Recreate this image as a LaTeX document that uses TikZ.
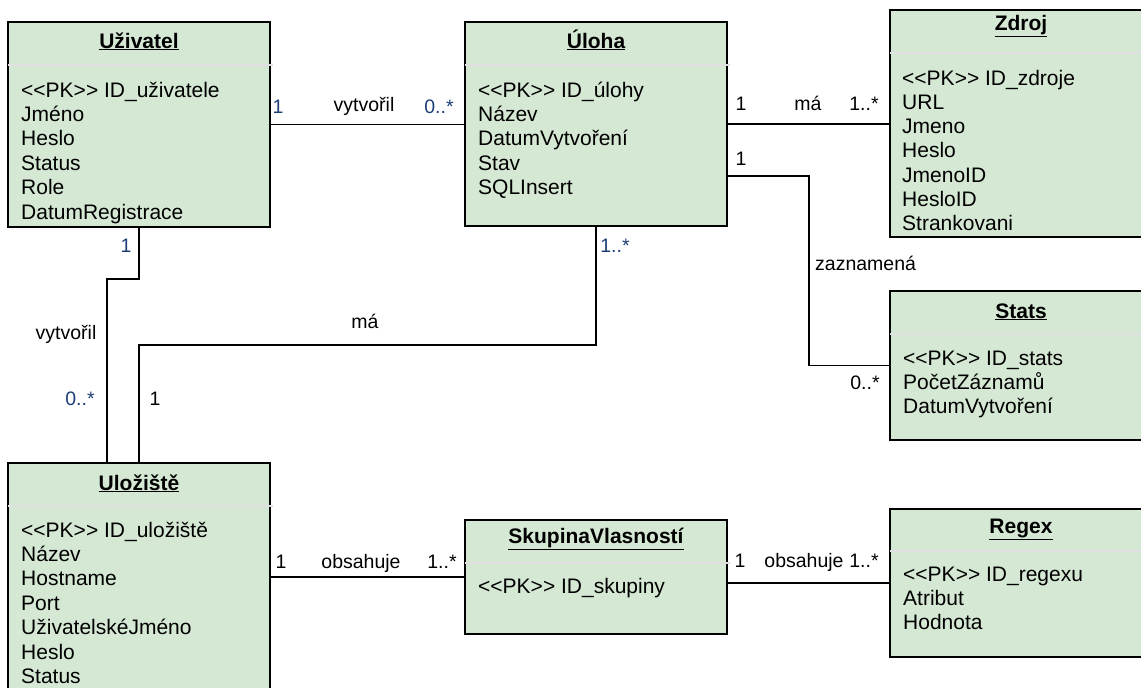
\documentclass[tikz,border=0pt]{standalone}
\usepackage{fontspec}
\newfontfamily\umlfont{Liberation Sans}
\definecolor{boxgreen}{HTML}{D5E8D4}
\definecolor{multblue}{RGB}{28,62,120}
\begin{document}
\begin{tikzpicture}[x=1pt,y=-1pt,
		entity/.style={draw=black, fill=boxgreen, line width=1.3pt, anchor=north west, inner sep=0pt, outer sep=0pt, minimum width=262pt},
		divider/.style={draw=gray!25, line width=1.6pt},
		entname/.style={font=\umlfont\fontsize{21}{24}\selectfont\bfseries, anchor=base, inner sep=0pt},
		attr/.style={font=\umlfont\fontsize{21}{24}\selectfont, anchor=base west, inner sep=0pt},
		lbl/.style={font=\umlfont\fontsize{19.5}{23}\selectfont, anchor=base, inner sep=0pt},
		mult/.style={lbl, text=multblue},
		assoc/.style={draw=black, line width=1.1pt}]
		\useasboundingbox (0,0) rectangle (1141,688);
		
		% entities
		\node[entity, minimum height=205pt] at (8,22) (uzivatel) {};
		\node[entity, minimum height=204pt] at (465,22) (uloha) {};
		\node[entity, minimum height=227pt] at (890,10) (zdroj) {};
		\node[entity, minimum height=149pt] at (890,291) (stats) {};
		\node[entity, minimum height=260pt] at (8,463) (ulozeni) {};
		\node[entity, minimum height=114pt] at (465,520) (skupina) {};
		\node[entity, minimum height=148pt] at (890,509) (regex) {};
		
		\draw[divider] (8,65) -- (273,65);
		\draw[divider] (465,65) -- (730,65);
		\draw[divider] (890,53) -- (1141,53);
		\draw[divider] (890,334) -- (1141,334);
		\draw[divider] (8,506) -- (273,506);
		\draw[divider] (465,563) -- (730,563);
		\draw[divider] (890,551) -- (1141,551);
		
		\node[entname] at (139,48) (uzivatel-t) {\underline{Uživatel}};
		\node[entname] at (596,48) (uloha-t) {\underline{Úloha}};
		\node[entname] at (1021,30) (zdroj-t) {\underline{Zdroj}};
		\node[entname] at (1021,318) (stats-t) {\underline{Stats}};
		\node[entname] at (139,490) (ulozeni-t) {\underline{Uložiště}};
		\node[entname] at (596,543) (skupina-t) {\underline{SkupinaVlasností}};
		\node[entname] at (1021,533) (regex-t) {\underline{Regex}};
		
		% attributes
		\foreach \a [count=\i from 0] in {<<PK>> ID\_uživatele, Jméno, Heslo, Status, Role, DatumRegistrace}
		\node[attr] at (21,97+24.4*\i) (uzivatel-a\i) {\a};
		\foreach \a [count=\i from 0] in {<<PK>> ID\_úlohy, Název, DatumVytvoření, Stav, SQLInsert}
		\node[attr] at (478,97+24.4*\i) (uloha-a\i) {\a};
		\foreach \a [count=\i from 0] in {<<PK>> ID\_zdroje, URL, Jmeno, Heslo, JmenoID, HesloID, Strankovani}
		\node[attr] at (902,85+24.3*\i) (zdroj-a\i) {\a};
		\foreach \a [count=\i from 0] in {<<PK>> ID\_stats, PočetZáznamů, DatumVytvoření}
		\node[attr] at (903,365+24.4*\i) (stats-a\i) {\a};
		\foreach \a [count=\i from 0] in {<<PK>> ID\_uložiště, Název, Hostname, Port, UživatelskéJméno, Heslo, Status}
		\node[attr] at (21,537+24.4*\i) (ulozeni-a\i) {\a};
		\node[attr] at (478,593) (skupina-a0) {<<PK>> ID\_skupiny};
		\foreach \a [count=\i from 0] in {<<PK>> ID\_regexu, Atribut, Hodnota}
		\node[attr] at (903,581+24.4*\i) (regex-a\i) {\a};
		
		% connectors
		\coordinate (zazn) at (809,176);
		\coordinate (vytv) at (107,279);
		\coordinate (ma) at (139,345);
		\draw[assoc] (uzivatel.east) -- (uzivatel.east -| uloha.west);
		\draw[assoc] (uloha.east) -- (uloha.east -| zdroj.west);
		\draw[assoc] (uloha.east |- zazn) -- (zazn) |- (stats.west);
		\draw[assoc] (uzivatel.south) |- (vytv) -- (vytv |- ulozeni.north);
		\draw[assoc] (uloha.south) |- (ma) -- (ulozeni.north);
		\draw[assoc] (ulozeni.east |- skupina.west) -- (skupina.west);
		\draw[assoc] (skupina.east |- regex.west) -- (regex.west);
		
		% labels
		\node[mult] at (278,113) (m-uz1) {1};
		\node[lbl] at (364,111) (l-vytvoril1) {vytvořil};
		\node[mult] at (439,113) (m-ul1) {0..*};
		
		\node[lbl] at (741,110) (m-ul2) {1};
		\node[lbl] at (808,110) (l-ma1) {má};
		\node[lbl] at (864,110) (m-zd) {1..*};
		
		\node[lbl] at (741,165) (m-ul3) {1};
		\node[lbl, anchor=base west] at (815,270) (l-zazn) {zaznamená};
		\node[lbl] at (865,389) (m-st) {0..*};
		
		\node[mult] at (126,252) (m-uz2) {1};
		\node[lbl] at (66,339) (l-vytvoril2) {vytvořil};
		\node[mult] at (80,405) (m-lo1) {0..*};
		
		\node[mult] at (615,252) (m-ul4) {1..*};
		\node[lbl] at (365,328) (l-ma2) {má};
		\node[lbl] at (155,405) (m-lo2) {1};
		
		\node[lbl] at (281,568) (m-lo3) {1};
		\node[lbl] at (361,568) (l-obs1) {obsahuje};
		\node[lbl] at (442,568) (m-sk1) {1..*};
		
		\node[lbl] at (740,567) (m-sk2) {1};
		\node[lbl] at (804,567) (l-obs2) {obsahuje};
		\node[lbl] at (864,567) (m-re) {1..*};
\end{tikzpicture}
\end{document}
